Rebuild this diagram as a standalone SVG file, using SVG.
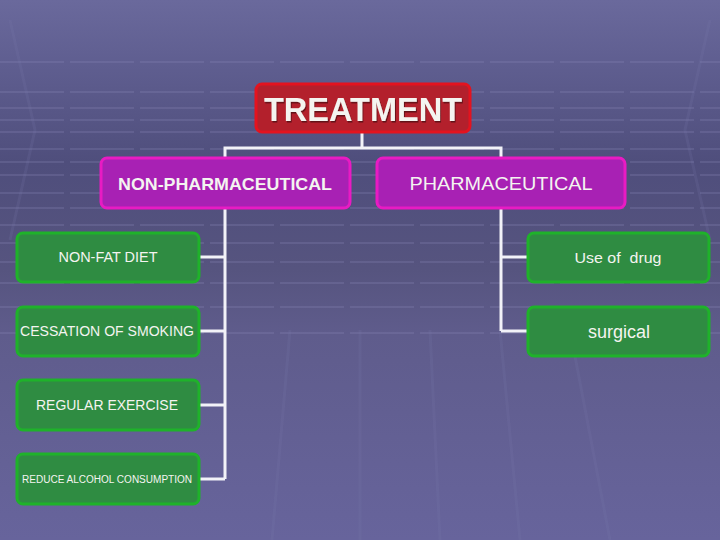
<svg xmlns="http://www.w3.org/2000/svg" width="720" height="540" viewBox="0 0 720 540">
<defs>
<linearGradient id="bg" x1="0" y1="0" x2="0" y2="1">
<stop offset="0" stop-color="#6a699c"/>
<stop offset="0.12" stop-color="#5f5e90"/>
<stop offset="0.3" stop-color="#4f4e7c"/>
<stop offset="0.5" stop-color="#56547f"/>
<stop offset="0.62" stop-color="#5f5c8c"/>
<stop offset="1" stop-color="#67649c"/>
</linearGradient>
<filter id="sh" x="-10%" y="-10%" width="120%" height="130%">
<feDropShadow dx="1" dy="1.5" stdDeviation="0.6" flood-color="#000" flood-opacity="0.45"/>
</filter>
</defs>
<style>
.grid line{stroke:#8a88b8;stroke-width:2;opacity:0.26;stroke-dasharray:64 6}
.vg line,.vg polyline{stroke:#7c7aae;stroke-width:3;opacity:0.18;fill:none}
.red{fill:#b3202c;stroke:#e3131f;stroke-width:3}
.mag{fill:#a821b4;stroke:#e81bc3;stroke-width:3}
.grn{fill:#2f8c42;stroke:#1fb22a;stroke-width:3}
.t{fill:#f4f4f0;font-family:"Liberation Sans",Arial,sans-serif;text-anchor:middle}
.b{font-weight:bold}
.conn{stroke:#f2f2f8;stroke-width:3;fill:none}
</style>
<rect width="720" height="540" fill="url(#bg)"/>
<g class="grid">
<line x1="0" y1="62" x2="720" y2="62"/>
<line x1="0" y1="92" x2="720" y2="92"/>
<line x1="0" y1="108" x2="720" y2="108"/>
<line x1="0" y1="120" x2="720" y2="120"/>
<line x1="0" y1="132" x2="720" y2="132"/>
<line x1="0" y1="149" x2="720" y2="149"/>
<line x1="0" y1="162" x2="720" y2="162"/>
<line x1="0" y1="175" x2="720" y2="175"/>
<line x1="0" y1="193" x2="720" y2="193"/>
<line x1="0" y1="208" x2="720" y2="208"/>
<line x1="0" y1="225" x2="720" y2="225"/>
<line x1="0" y1="243" x2="720" y2="243"/>
<line x1="0" y1="262" x2="720" y2="262"/>
<line x1="0" y1="283" x2="720" y2="283"/>
<line x1="0" y1="307" x2="720" y2="307"/>
<line x1="0" y1="333" x2="720" y2="333"/>
</g>
<g class="vg">
<polyline points="10,20 35,130 10,240"/>
<polyline points="710,20 685,130 710,240"/>
<line x1="290" y1="330" x2="272" y2="540"/>
<line x1="360" y1="330" x2="360" y2="540"/>
<line x1="430" y1="330" x2="440" y2="540"/>
<line x1="500" y1="330" x2="520" y2="540"/>
<line x1="570" y1="330" x2="610" y2="540"/>
</g>
<g id="connectors">
<path class="conn" d="M362,133 V148 M225,157 V148 H501 V157"/>
<path class="conn" d="M225,208 V479 M199,257 H225 M199,331 H225 M199,405 H225 M199,479 H225"/>
<path class="conn" d="M501,208 V331 M501,257 H527 M501,331 H527"/>
</g>
<g id="treatment">
<rect class="red" x="256" y="84" width="214" height="48" rx="6"/>
<text class="t b" x="363" y="121" font-size="33" filter="url(#sh)" textLength="198" lengthAdjust="spacingAndGlyphs">TREATMENT</text>
</g>
<g id="non-pharmaceutical">
<rect class="mag" x="101" y="158" width="249" height="50" rx="6"/>
<text class="t b" x="225" y="190" font-size="17" textLength="214" lengthAdjust="spacingAndGlyphs">NON-PHARMACEUTICAL</text>
</g>
<g id="pharmaceutical">
<rect class="mag" x="377" y="158" width="248" height="50" rx="6"/>
<text class="t" x="501" y="190" font-size="18" textLength="183" lengthAdjust="spacingAndGlyphs">PHARMACEUTICAL</text>
</g>
<g id="non-fat-diet">
<rect class="grn" x="17" y="233" width="182" height="49" rx="6"/>
<text class="t" x="108" y="262" font-size="14" textLength="99" lengthAdjust="spacingAndGlyphs">NON-FAT DIET</text>
</g>
<g id="cessation-of-smoking">
<rect class="grn" x="17" y="307" width="182" height="49" rx="6"/>
<text class="t" x="107" y="336" font-size="14" textLength="174" lengthAdjust="spacingAndGlyphs">CESSATION OF SMOKING</text>
</g>
<g id="regular-exercise">
<rect class="grn" x="17" y="380" width="182" height="50" rx="6"/>
<text class="t" x="107" y="410" font-size="14" textLength="142" lengthAdjust="spacingAndGlyphs">REGULAR EXERCISE</text>
</g>
<g id="reduce-alcohol">
<rect class="grn" x="17" y="454" width="182" height="50" rx="6"/>
<text class="t" x="107" y="483" font-size="10" textLength="170" lengthAdjust="spacingAndGlyphs">REDUCE ALCOHOL CONSUMPTION</text>
</g>
<g id="use-of-drug">
<rect class="grn" x="528" y="233" width="181" height="49" rx="6"/>
<text class="t" x="618" y="263" font-size="15" xml:space="preserve" textLength="87" lengthAdjust="spacingAndGlyphs">Use of  drug</text>
</g>
<g id="surgical">
<rect class="grn" x="528" y="307" width="181" height="49" rx="6"/>
<text class="t" x="619" y="338" font-size="18" textLength="62" lengthAdjust="spacingAndGlyphs">surgical</text>
</g>
</svg>
